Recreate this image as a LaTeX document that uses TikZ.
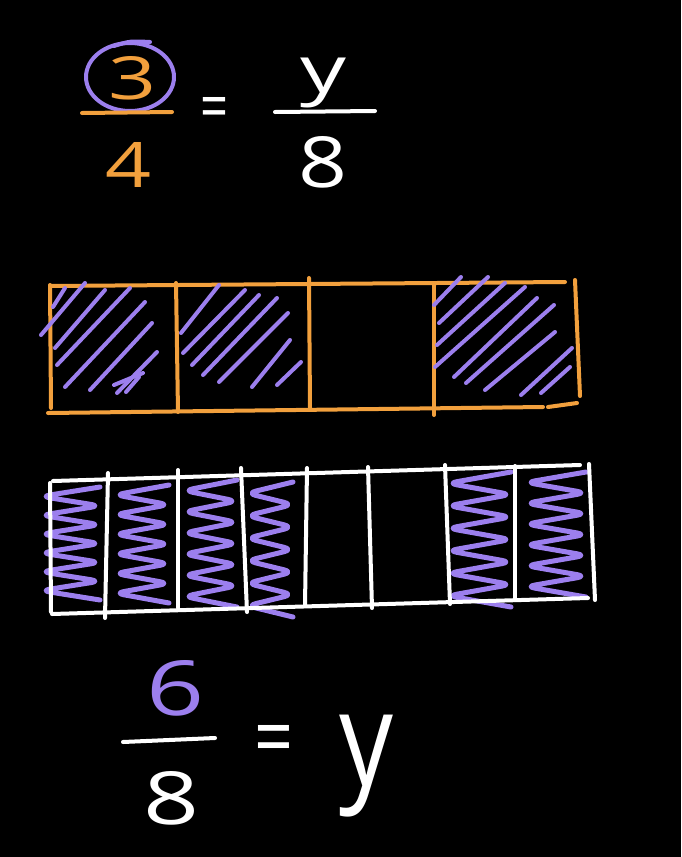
\documentclass[tikz,border=0pt]{standalone}
\usepackage{fontspec}
\setmainfont{Open Sans}
\usepackage{graphicx}
\definecolor{org}{HTML}{F2A03D}
\definecolor{pur}{HTML}{9C7FEE}
\begin{document}
\begin{tikzpicture}[x=1pt,y=-1pt,line cap=round,line join=round,
  ob/.style={draw=org,line width=4pt},
  wb/.style={draw=white,line width=4pt},
  hatch/.style={draw=pur,line width=4pt},
  scrib/.style={draw=pur,line width=5pt,rounded corners=9pt},
  glyph/.style={inner sep=0pt,outer sep=0pt}]
\fill[black] (0,0) rectangle (681,857);
\useasboundingbox (0,0) rectangle (681,857);

% top equation
\node[glyph,text=org] (three) at (133,78) {\resizebox{48pt}{43pt}{3}};
\draw[draw=pur,line width=4pt] (130,77) ellipse [x radius=44,y radius=34];
\draw[draw=pur,line width=4pt] (114,46) .. controls (130,41) .. (150,42);
\draw[ob] (82,113) -- (172,112);
\node[glyph,text=org] (four) at (129,165) {\resizebox{46pt}{45pt}{4}};
\node[glyph,text=white] (eqtop) at (215,113) {\resizebox{28pt}{32pt}{=}};
\node[glyph,text=white] (ytop) at (323,83) {\resizebox*{46pt}{50pt}{y}};
\draw[wb] (275,112) -- (375,111);
\node[glyph,text=white] (eighttop) at (323,162) {\resizebox{49pt}{51pt}{8}};

% orange bar
\draw[ob] (50,286) -- (565,282);
\draw[ob] (575,280) -- (580,396);
\draw[ob] (48,413) -- (543,407);
\draw[ob] (548,407) -- (577,403);
\draw[ob] (50,285) -- (51,408);
\draw[ob] (176,283) -- (178,412);
\draw[ob] (309,278) -- (310,408);
\draw[ob] (434,283) -- (434,415);
\foreach \a/\b/\c/\d in {41/335/85/283, 53/307/65/288, 55/348/105/290, 57/365/130/288,
  65/387/145/302, 90/390/152/323, 117/393/157/352, 114/385/143/373, 126/392/139/377,
  181/333/219/285, 183/353/245/290, 192/365/259/295, 203/375/277/298, 219/382/288/313,
  252/387/290/340, 277/385/301/362,
  434/305/461/277, 439/323/488/277, 437/345/505/283, 435/367/525/287, 454/377/537/298,
  466/383/554/305, 485/390/555/332, 521/395/572/348, 541/393/570/367}
  {\draw[hatch] (\a,\b) -- (\c,\d);}

% white bar
\foreach \xl/\xr/\yt/\yb/\n in {41/100/487/600/6, 115/169/485/603/6, 184/237/480/607/6,
  247/293/482/617/6, 448/511/472/607/6, 526/586/472/597/6}
{
  \pgfmathsetmacro\hh{(\yb-\yt)/(2*\n)}
  \draw[scrib] (\xr,\yt) \foreach \i in {1,...,\n} { -- (\xl,{\yt+(2*\i-1)*\hh}) -- (\xr,{\yt+2*\i*\hh}) };
}
\draw[wb] (53,481) -- (580,465);
\draw[wb] (50,483) -- (51,612);
\draw[wb] (52,614) -- (588,598);
\draw[wb] (589,464) -- (595,600);
\draw[wb] (108,473) -- (105,618);
\draw[wb] (178,470) -- (178,608);
\draw[wb] (241,468) -- (247,612);
\draw[wb] (307,468) -- (305,606);
\draw[wb] (368,467) -- (372,608);
\draw[wb] (445,465) -- (450,604);
\draw[wb] (515,466) -- (515,600);

% bottom equation
\node[glyph,text=pur] (six) at (176,688) {\resizebox{58pt}{55pt}{6}};
\draw[wb] (123,742) -- (215,738);
\node[glyph,text=white] (eightbot) at (172,798) {\resizebox{56pt}{53pt}{8}};
\node[glyph,text=white] (eqbot) at (274,746) {\resizebox{39pt}{42pt}{=}};
\node[glyph,text=white] (ybot) at (366,766) {\resizebox*{54pt}{102pt}{y}};
\end{tikzpicture}
\end{document}
